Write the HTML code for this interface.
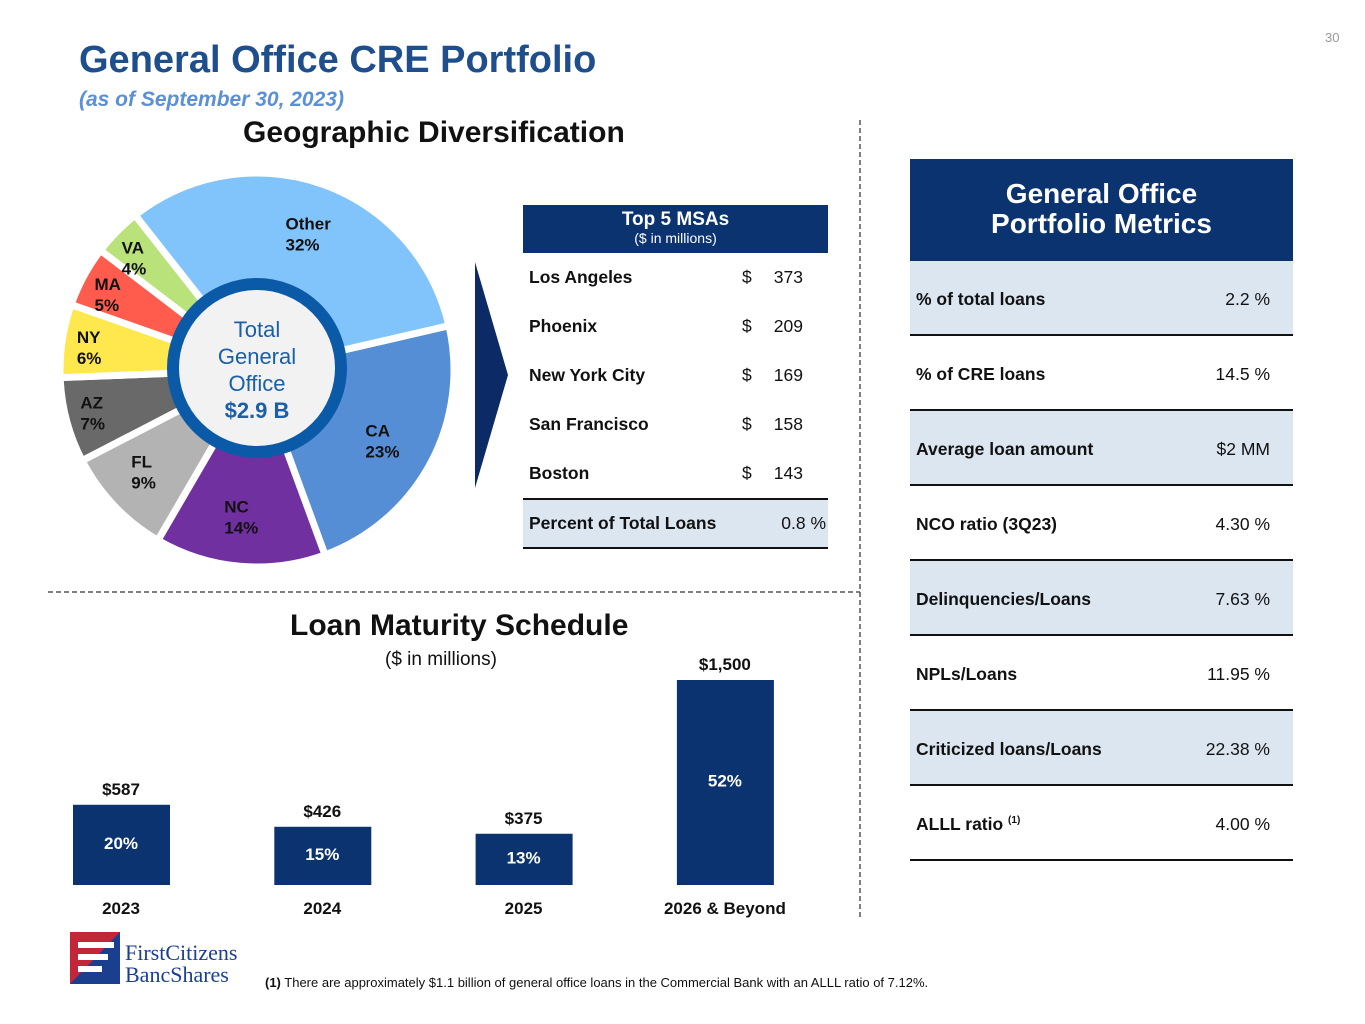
<!DOCTYPE html>
<html><head><meta charset="utf-8">
<style>
body{margin:0;width:1365px;height:1024px;background:#fff;font-family:"Liberation Sans",Arial,sans-serif;position:relative;overflow:hidden}
.abs{position:absolute}
.b{font-weight:bold}
</style></head>
<body>
<div class="abs" style="left:1325px;top:30px;font-size:13px;color:#999">30</div>
<div class="abs b" style="left:79px;top:39px;font-size:38px;color:#1f4e8c">General Office CRE Portfolio</div>
<div class="abs b" style="left:79px;top:88px;font-size:21px;font-style:italic;color:#5b8fd6">(as of September 30, 2023)</div>
<div class="abs b" style="left:243px;top:116px;font-size:30px;color:#111">Geographic Diversification</div>

<svg class="abs" style="left:0;top:0" width="1365" height="1024">
  <line x1="860" y1="120" x2="860" y2="920" stroke="#555" stroke-width="1.5" stroke-dasharray="5,3"/>
  <line x1="48" y1="592" x2="860" y2="592" stroke="#555" stroke-width="1.5" stroke-dasharray="5,3"/>
  <g id="pie"></g>
  <polygon points="475,262 508,375 475,488" fill="#0b2a66"/>
  <g id="bars"></g>
</svg>

<div class="abs" style="left:523px;top:205px;width:305px">
  <div style="background:#0b3370;color:#fff;height:48px;text-align:center">
    <div class="b" style="font-size:19px;padding-top:4px">Top 5 MSAs</div>
    <div style="font-size:14px;margin-top:-1px">($ in millions)</div>
  </div>
  <div id="msarows"></div>
</div>

<div class="abs" style="left:910px;top:159px;width:383px">
  <div class="b" style="background:#0b3370;color:#fff;height:102px;text-align:center;font-size:28px;line-height:30px;box-sizing:border-box;padding-top:20px">General Office<br>Portfolio Metrics</div>
  <div id="metrows"></div>
</div>

<div class="abs b" style="left:290px;top:609px;font-size:30px;color:#111">Loan Maturity Schedule</div>
<div class="abs" style="left:385px;top:649px;font-size:19px;color:#111">($ in millions)</div>

<svg class="abs" style="left:68px;top:930px" width="190" height="60">
  <rect x="2" y="2" width="50" height="52" fill="#1b3f8f"/>
  <polygon points="2,2 52,2 2,54" fill="#d6232f" opacity="0.9"/>
  <rect x="10" y="12" width="36" height="6" fill="#fff"/>
  <rect x="10" y="24" width="30" height="6" fill="#fff"/>
  <rect x="10" y="36" width="24" height="6" fill="#fff"/>
  <text x="57" y="30" font-family="Liberation Serif,serif" font-size="22" fill="#1b3f8f">FirstCitizens</text>
  <text x="57" y="52" font-family="Liberation Serif,serif" font-size="22" fill="#1b3f8f">BancShares</text>
</svg>
<div class="abs" style="left:265px;top:975px;font-size:13px;color:#111"><b>(1)</b> There are approximately $1.1 billion of general office loans in the Commercial Bank with an ALLL ratio of 7.12%.</div>

<script>
const NS='http://www.w3.org/2000/svg';
const pieLabels=['CA','NC','FL','AZ','NY','MA','VA','Other'];
const pieValues=[23,14,9,7,6,5,4,32];
const pieColors=['#558ed5','#7030a0','#b3b3b3','#696969','#ffe84d','#ff5c4d','#b9e27a','#80c4fb'];
const barCats=['2023','2024','2025','2026 & Beyond'];
const barValues=[587,426,375,1500];
const barLabels=['$587','$426','$375','$1,500'];
const barPcts=['20%','15%','13%','52%'];
const msaNames=['Los Angeles','Phoenix','New York City','San Francisco','Boston'];
const msaValues=[373,209,169,158,143];
const metNames=['% of total loans','% of CRE loans','Average loan amount','NCO ratio (3Q23)','Delinquencies/Loans','NPLs/Loans','Criticized loans/Loans','ALLL ratio <sup style="font-size:10px">(1)</sup>'];
const metValues=['2.2 %','14.5 %','$2 MM','4.30 %','7.63 %','11.95 %','22.38 %','4.00 %'];

function mk(tag,attrs,parent){const e=document.createElementNS(NS,tag);for(const k in attrs)e.setAttribute(k,attrs[k]);parent.appendChild(e);return e;}

const pie=document.getElementById('pie');
const cx=257,cy=370,R=197;
let a=77;
const tot=pieValues.reduce((s,v)=>s+v,0);
function pt(ang,rad){const t=(ang-90)*Math.PI/180;return [cx+rad*Math.cos(t),cy+rad*Math.sin(t)];}
pieValues.forEach((v,i)=>{
  const sw=v/tot*360, a2=a+sw;
  const p1=pt(a,R),p2=pt(a2,R);
  const path=mk('path',{d:`M${cx},${cy} L${p1[0]},${p1[1]} A${R},${R} 0 ${sw>180?1:0} 1 ${p2[0]},${p2[1]} Z`,fill:pieColors[i],stroke:'#fff','stroke-width':7},pie);
  
  
  const mid=a+sw/2, rr=(v<8)?162:146;
  const lp=pt(mid,rr);
  const t=mk('text',{x:lp[0]-20,y:lp[1]-3,'font-size':17,'font-weight':'bold',fill:'#111'},pie);
  
  
  const s1=mk('tspan',{x:lp[0]-20},t);s1.textContent=pieLabels[i];
  const s2=mk('tspan',{x:lp[0]-20,dy:21},t);s2.textContent=v+'%';
  a=a2;
});
const hole=mk('circle',{cx:cx,cy:cy-2,r:84,fill:'#f2f2f2',stroke:'#0a5aa8','stroke-width':12},pie);


[['Total',337,false],['General',364,false],['Office',391,false],['$2.9 B',418,true]].forEach(d=>{
  const t=mk('text',{x:cx,y:d[1],'text-anchor':'middle','font-size':22,fill:'#1a5fa8','font-weight':d[2]?'bold':'normal'},pie);
  t.textContent=d[0];
  
  
});

const bars=document.getElementById('bars');
const base=885, yScale=v=>base-v*(205/1500);
const xCenter=i=>121+i*201.3;
barValues.forEach((v,i)=>{
  const x=xCenter(i), y=yScale(v);
  const r=mk('rect',{x:x-48,y:y,width:97,height:base-y,fill:'#0b3370'},bars);
  
  
  const l=mk('text',{x:x,y:y-10,'text-anchor':'middle','font-size':17,'font-weight':'bold',fill:'#111'},bars);
  l.textContent=barLabels[i];
  
  
  const p=mk('text',{x:x,y:(y+base)/2+4,'text-anchor':'middle','font-size':17,'font-weight':'bold',fill:'#fff'},bars);
  p.textContent=barPcts[i];
  
  
  const c=mk('text',{x:x,y:914,'text-anchor':'middle','font-size':17,'font-weight':'bold',fill:'#111'},bars);
  c.textContent=barCats[i];
  
  
});

const mr=document.getElementById('msarows');
msaNames.forEach((n,i)=>{
  const d=document.createElement('div');
  
  
  d.style.cssText='height:49px;position:relative;font-size:17.5px;color:#111';
  d.innerHTML=`<span style="position:absolute;left:6px;top:14px;font-weight:bold">${n}</span><span style="position:absolute;left:219px;top:14px">$</span><span style="position:absolute;right:25px;top:14px">${msaValues[i]}</span>`;
  mr.appendChild(d);
});
const tot2=document.createElement('div');


tot2.style.cssText='height:47px;position:relative;font-size:17.5px;color:#111;background:#dce6f1;border-top:2px solid #111;border-bottom:2px solid #111';
tot2.innerHTML='<span style="position:absolute;left:6px;top:13px;font-weight:bold">Percent of Total Loans</span><span style="position:absolute;right:2px;top:13px">0.8 %</span>';
mr.appendChild(tot2);

const mt=document.getElementById('metrows');
metNames.forEach((n,i)=>{
  const d=document.createElement('div');
  
  
  d.style.cssText=`height:73px;position:relative;font-size:17.5px;color:#111;border-bottom:2px solid #111;background:${i%2==0?'#dce6f1':'#fff'}`;
  d.innerHTML=`<span style="position:absolute;left:6px;top:28px;font-weight:bold">${n}</span><span style="position:absolute;right:23px;top:28px">${metValues[i]}</span>`;
  mt.appendChild(d);
});
</script>
</body></html>
